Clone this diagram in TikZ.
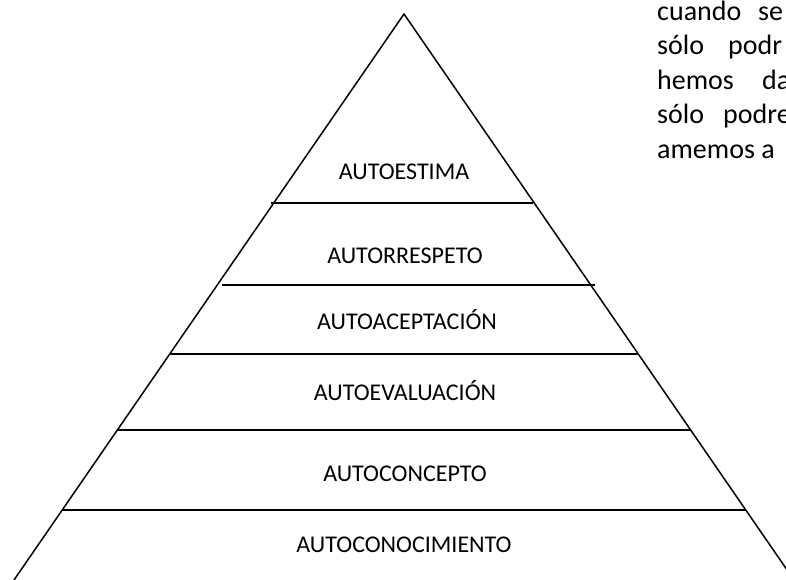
\documentclass[tikz,border=0pt]{standalone}
\usepackage{fontspec}
\setmainfont{Carlito}
\begin{document}
\begin{tikzpicture}[x=1pt,y=-1pt,
  edge/.style={line width=1.5pt,line join=miter},
  tier/.style={line width=1.6pt},
  lab/.style={anchor=base,inner sep=0pt,font=\fontsize{24}{29}\selectfont},
  para/.style={anchor=base west,inner sep=0pt,font=\fontsize{28}{34}\selectfont}]
\useasboundingbox (0,0) rectangle (786,580);
\clip (0,0) rectangle (786,580);
% pyramid outline
\coordinate (apex) at (404,14);
\coordinate (bl) at (14,580);
\coordinate (br) at (794,580);
\draw[edge] (bl) -- (apex) -- (br);
% tier lines
\coordinate (l1a) at (271,203); \coordinate (l1b) at (533,203);
\coordinate (l2a) at (222,285); \coordinate (l2b) at (595,285);
\coordinate (l3a) at (170,354); \coordinate (l3b) at (638,354);
\coordinate (l4a) at (117,430); \coordinate (l4b) at (691,430);
\coordinate (l5a) at (62,510);  \coordinate (l5b) at (746,510);
\draw[tier] (l1a) -- (l1b);
\draw[tier] (l2a) -- (l2b);
\draw[tier] (l3a) -- (l3b);
\draw[tier] (l4a) -- (l4b);
\draw[tier] (l5a) -- (l5b);
% labels
\node[lab] (t1) at (404,179) {AUTOESTIMA};
\node[lab] (t2) at (405,263) {AUTORRESPETO};
\node[lab] (t3) at (407,329) {AUTOACEPTACIÓN};
\node[lab] (t4) at (405,400) {AUTOEVALUACIÓN};
\node[lab] (t5) at (405,481) {AUTOCONCEPTO};
\node[lab] (t6) at (404,552) {AUTOCONOCIMIENTO};
% clipped paragraph at top right
\node[para] (p1a) at (657,20.5) {cuando};
\node[para] (p1b) at (758,20.5) {se};
\node[para] (p2a) at (657,55) {sólo};
\node[para] (p2b) at (728,55) {podr};
\node[para] (p3a) at (657,89.5) {hemos};
\node[para] (p3b) at (762,89.5) {da};
\node[para] (p4a) at (657,124) {sólo};
\node[para] (p4b) at (723,124) {podre};
\node[para] (p5a) at (657,158.5) {amemos a};
\end{tikzpicture}
\end{document}
